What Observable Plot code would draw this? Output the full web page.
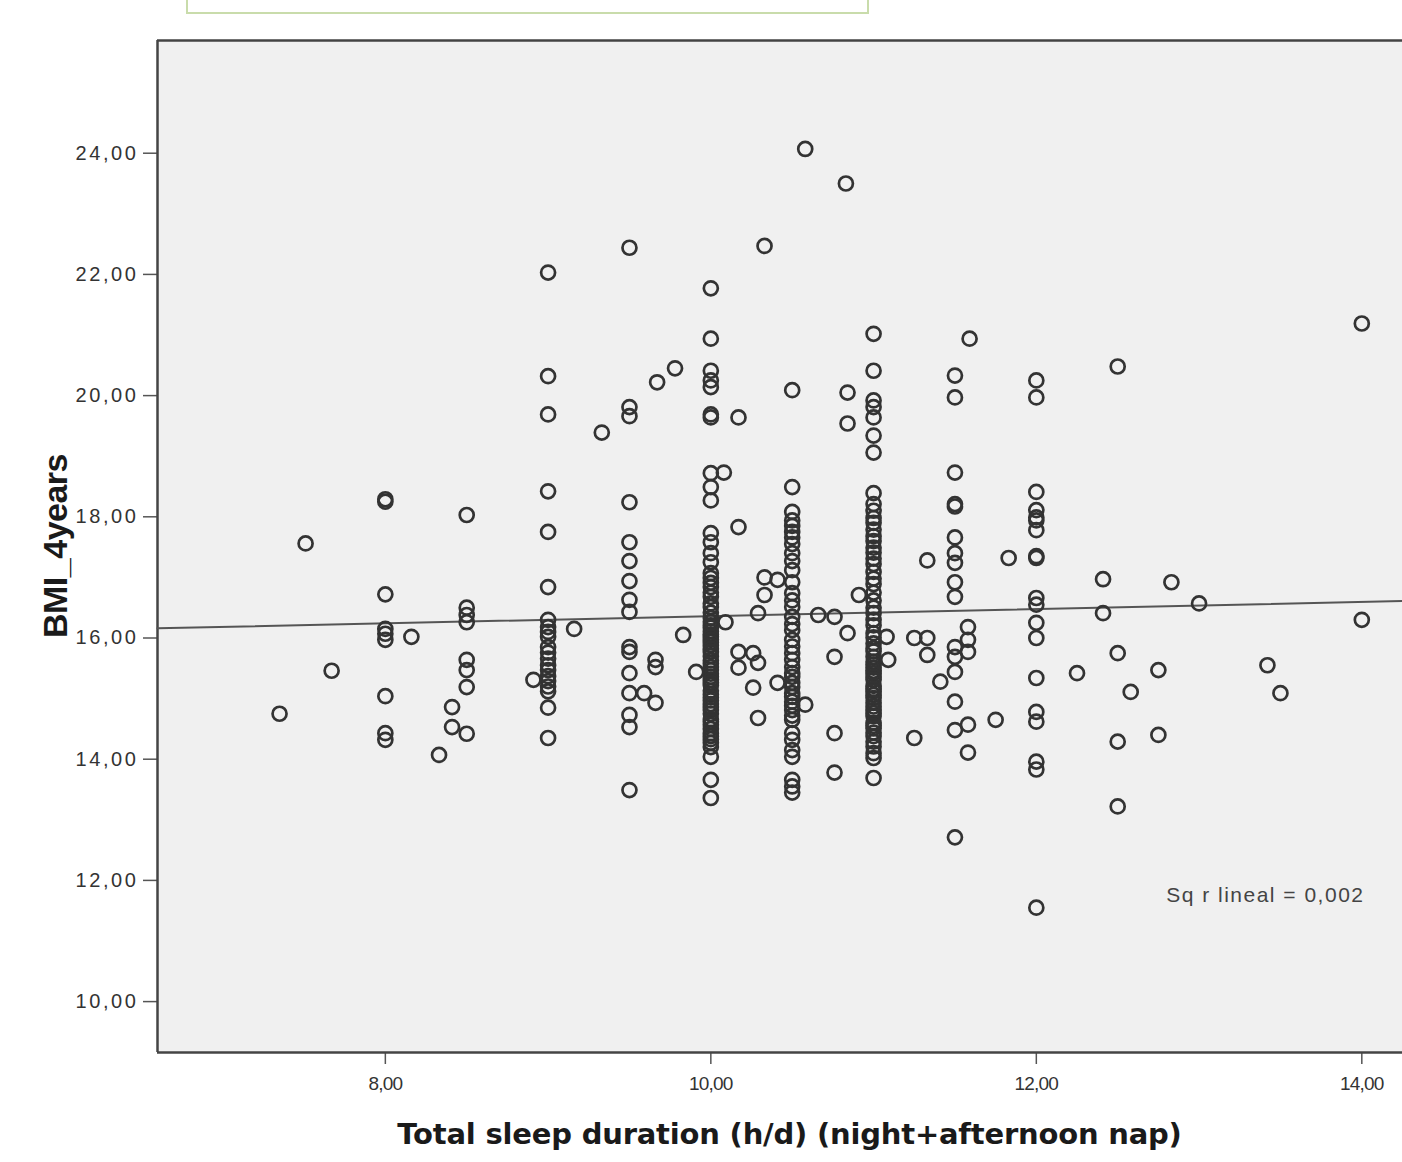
<!DOCTYPE html>
<html><head><meta charset="utf-8">
<script src="https://cdn.jsdelivr.net/npm/d3@7"></script>
<script src="https://cdn.jsdelivr.net/npm/@observablehq/plot@0.6"></script>
<style>
body{margin:0;background:#fff;width:1402px;height:1162px;overflow:hidden;position:relative;font-family:"Liberation Sans",Arial,sans-serif}
#topbox{position:absolute;left:186px;top:-4px;width:679px;height:14px;border:2px solid #c9dcab;}
#chart{position:absolute;left:0;top:0}
#xlab{position:absolute;left:167px;width:1245px;top:1117px;text-align:center;font:bold 29px "DejaVu Sans",sans-serif;color:#1a1a1a;letter-spacing:-0.2px}
#ylab{position:absolute;left:55px;top:546px;transform:translate(-50%,-50%) rotate(-90deg);font:bold 34px "Liberation Sans",sans-serif;color:#1a1a1a;white-space:nowrap;letter-spacing:-0.5px}
#chart g[aria-label="y-axis tick label"] text{letter-spacing:2.6px}
#chart g[aria-label="x-axis tick label"] text{letter-spacing:-0.8px}
#chart g[aria-label="text"] text{letter-spacing:1.5px}
</style></head><body>
<div id="chart"></div>
<div id="topbox"></div>
<div id="xlab">Total sleep duration (h/d) (night+afternoon nap)</div>
<div id="ylab">BMI_4years</div>
<script>
// Sleep-duration columns (h/d) and the BMI values read at each
const columnHours = [8, 8.5, 9, 9.5, 10, 10.5, 11, 11.5, 12];
const bmiAt8 = [18.29, 18.25, 16.72, 16.15, 16.07, 15.97, 15.04, 14.43, 14.32];
const bmiAt8_5 = [18.03, 16.50, 16.38, 16.26, 15.64, 15.47, 15.19, 14.42];
const bmiAt9 = [22.03, 20.32, 19.69, 18.42, 17.75, 16.84, 16.30, 16.18, 16.10, 16.02, 15.85, 15.76, 15.66, 15.55, 15.47, 15.37, 15.29, 15.20, 15.12, 14.85, 14.35];
const bmiAt9_5 = [22.44, 19.81, 19.66, 18.24, 17.58, 17.27, 16.94, 16.63, 16.43, 15.85, 15.77, 15.42, 15.09, 14.73, 14.53, 13.49];
const bmiAt10 = [21.77, 20.94, 20.41, 20.25, 20.14, 19.69, 19.64, 18.72, 18.49, 18.27, 17.73, 17.58, 17.40, 17.25,
  17.07, 16.99, 16.91, 16.84, 16.75, 16.68, 16.57, 16.51, 16.42, 16.33, 16.27, 16.21, 16.17, 16.11, 16.06, 16.02, 15.97,
  15.93, 15.88, 15.82, 15.77, 15.70, 15.63, 15.58, 15.52, 15.47, 15.41, 15.36, 15.31, 15.26, 15.22, 15.13, 15.07, 15.02,
  14.97, 14.91, 14.86, 14.81, 14.75, 14.66, 14.62, 14.57, 14.50, 14.43, 14.38, 14.33, 14.27, 14.20, 14.04, 13.66, 13.36];
const bmiAt10_5 = [20.09, 18.49, 18.08, 17.94, 17.85, 17.75, 17.66, 17.55, 17.40, 17.27, 17.12, 16.92, 16.74, 16.62, 16.51,
  16.35, 16.23, 16.13, 15.97, 15.86, 15.75, 15.64, 15.52, 15.42, 15.36, 15.26, 15.19, 15.09, 15.03, 14.95, 14.88, 14.81,
  14.72, 14.65, 14.43, 14.32, 14.15, 14.04, 13.66, 13.55, 13.45];
const bmiAt11 = [21.02, 20.41, 19.92, 19.81, 19.64, 19.34, 19.06, 18.39, 18.21, 18.10, 17.98, 17.90, 17.79, 17.68, 17.60,
  17.49, 17.41, 17.31, 17.22, 17.09, 16.98, 16.89, 16.75, 16.62, 16.50, 16.41, 16.30, 16.21, 16.08, 16.01, 15.91, 15.83,
  15.78, 15.69, 15.61, 15.56, 15.51, 15.46, 15.42, 15.36, 15.31, 15.21, 15.16, 15.12, 15.06, 15.01, 14.93, 14.87, 14.81,
  14.76, 14.71, 14.60, 14.55, 14.51, 14.44, 14.38, 14.29, 14.21, 14.10, 14.02, 13.69];
const bmiAt11_5 = [20.33, 19.97, 18.73, 18.21, 18.17, 17.66, 17.40, 17.24, 16.92, 16.68, 15.85, 15.69, 15.44, 14.95, 14.48, 12.71];
const bmiAt12 = [20.25, 19.97, 18.41, 18.11, 17.99, 17.94, 17.78, 17.35, 17.32, 16.66, 16.55, 16.25, 16.00, 15.34, 14.78, 14.62, 13.96, 13.83, 11.55];
const columnBmi = [bmiAt8, bmiAt8_5, bmiAt9, bmiAt9_5, bmiAt10, bmiAt10_5, bmiAt11, bmiAt11_5, bmiAt12];

// Points not on a half-hour column
const otherHours = [7.35, 7.51, 7.67, 8.16, 8.33, 8.41, 8.41, 8.91, 9.16, 9.33, 9.59, 9.66, 9.66, 9.66, 9.67, 9.78, 9.83, 9.91,
  10.08, 10.09, 10.17, 10.17, 10.17, 10.17, 10.26, 10.26, 10.29, 10.29, 10.29, 10.33, 10.33, 10.33, 10.41, 10.41,
  10.58, 10.58, 10.66, 10.76, 10.76, 10.76, 10.76, 10.83, 10.84, 10.84, 10.84, 10.91, 11.08, 11.09,
  11.25, 11.25, 11.33, 11.33, 11.33, 11.41, 11.58, 11.58, 11.58, 11.58, 11.58, 11.59, 11.75, 11.83,
  12.25, 12.41, 12.41, 12.50, 12.50, 12.50, 12.50, 12.58, 12.75, 12.75, 12.83, 13.00, 13.42, 13.50, 14.00, 14.00];
const otherBmi = [14.75, 17.56, 15.46, 16.02, 14.07, 14.86, 14.53, 15.31, 16.15, 19.39, 15.09, 15.64, 15.52, 14.93, 20.22, 20.45, 16.05, 15.44,
  18.73, 16.26, 19.64, 17.83, 15.77, 15.51, 15.75, 15.18, 15.59, 14.68, 16.41, 22.47, 17.00, 16.71, 16.96, 15.26,
  24.07, 14.90, 16.38, 16.35, 15.69, 14.43, 13.78, 23.50, 16.08, 20.05, 19.54, 16.71, 16.02, 15.64,
  16.00, 14.35, 16.00, 15.72, 17.28, 15.28, 16.18, 15.97, 15.77, 14.57, 14.11, 20.94, 14.65, 17.32,
  15.42, 16.97, 16.41, 20.48, 15.75, 14.29, 13.22, 15.11, 15.47, 14.40, 16.92, 16.57, 15.55, 15.09, 21.19, 16.30];

const yTicks = [10, 12, 14, 16, 18, 20, 22, 24];
const xTicks = [8, 10, 12, 14];
const fitLabel = "Sq r lineal = 0,002";

const data = [];
columnHours.forEach((h, i) => columnBmi[i].forEach(b => data.push({sleep: h, bmi: b})));
otherHours.forEach((h, i) => data.push({sleep: h, bmi: otherBmi[i]}));

const xDomain = [6.6, 14.25];
const yDomain = [9.16, 25.86];

// least-squares fit
const mx = d3.mean(data, d => d.sleep), my = d3.mean(data, d => d.bmi);
const slope = d3.sum(data, d => (d.sleep - mx) * (d.bmi - my)) / d3.sum(data, d => (d.sleep - mx) ** 2);
const intercept = my - slope * mx;
const fitLine = xDomain.map(x => ({sleep: x, bmi: intercept + slope * x}));

const fmt = d => d.toFixed(2).replace(".", ",");

const chart = Plot.plot({
  width: 1402, height: 1162,
  marginLeft: 157, marginRight: 0, marginTop: 40, marginBottom: 110,
  style: {background: "transparent", fontFamily: "'Liberation Sans', Arial, sans-serif", color: "#333"},
  x: {domain: xDomain, label: null},
  y: {domain: yDomain, label: null},
  marks: [
    Plot.frame({fill: "#f0f0f0", stroke: "none"}),
    Plot.axisX(xTicks, {tickFormat: fmt, tickSize: 12, tickPadding: 12, fontSize: 19, stroke: "#555", strokeWidth: 1.5, fill: "#333"}),
    Plot.axisY(yTicks, {tickFormat: fmt, tickSize: 14, tickPadding: 5, fontSize: 20, stroke: "#555", strokeWidth: 1.5, fill: "#333"}),
    Plot.ruleX([xDomain[0]], {stroke: "#444", strokeWidth: 2.5}),
    Plot.ruleY([yDomain[0], yDomain[1]], {stroke: "#444", strokeWidth: 2.5}),
    Plot.line(fitLine, {x: "sleep", y: "bmi", stroke: "#555", strokeWidth: 2}),
    Plot.dot(data, {x: "sleep", y: "bmi", r: 7, stroke: "#333", strokeWidth: 2.7, fill: "none"}),
    Plot.text([fitLabel], {frameAnchor: "bottom-right", dx: -38, dy: -151, fontSize: 21, fill: "#444"})
  ]
});
document.getElementById("chart").appendChild(chart);
</script>
</body></html>
